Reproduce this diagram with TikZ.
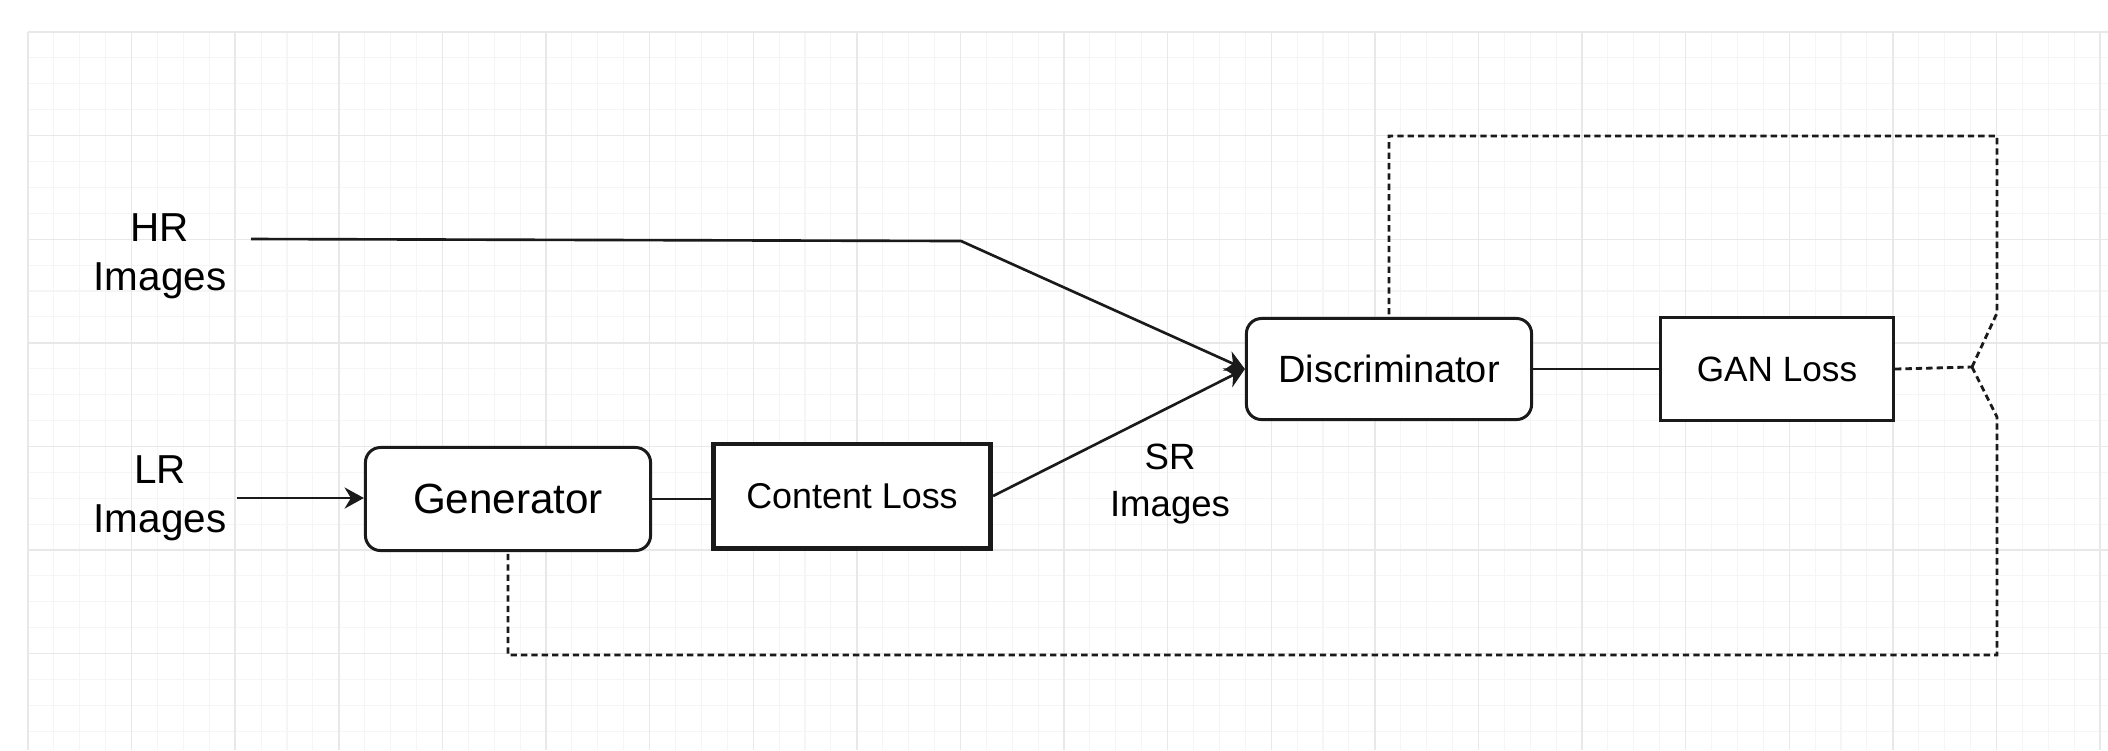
\documentclass[tikz,border=0pt]{standalone}
\usepackage{fontspec}
\setmainfont{Liberation Sans}
\usetikzlibrary{arrows.meta, positioning}
\definecolor{gridmajor}{HTML}{E8E8E8}
\definecolor{gridminor}{HTML}{F5F5F5}
\definecolor{ganstroke}{HTML}{1A1A1A}

\begin{document}
\begin{tikzpicture}[
  x=0.01cm, y=-0.01cm,
  netbox/.style={draw=ganstroke, line width=0.85pt, rounded corners=4.3pt, fill=white, minimum width=2.85cm, minimum height=1.03cm, inner sep=0pt},
  lossbox/.style={draw=ganstroke, line width=0.85pt, fill=white, minimum height=1.03cm, inner sep=0pt},
  imglabel/.style={align=center, inner sep=0.1cm},
  flow/.style={-{Stealth[length=5.5pt, width=6pt, inset=1.8pt]}, line width=0.75pt, ganstroke},
  link/.style={line width=0.75pt, ganstroke},
  loss/.style={line width=0.8pt, ganstroke, dash pattern=on 1.8pt off 1.15pt}
]
\useasboundingbox (0,0) rectangle (2108,750);
\fill[white] (0,0) rectangle (2108,750);

% Background grid
\foreach \i in {0,...,80} \draw[gridminor, line width=0.3pt] ({28+\i*25.9},32) -- ({28+\i*25.9},750);
\foreach \j in {0,...,27} \draw[gridminor, line width=0.3pt] (28,{32+\j*25.9}) -- (2108,{32+\j*25.9});
\foreach \i in {0,4,...,80} \draw[gridmajor, line width=0.4pt] ({28+\i*25.9},32) -- ({28+\i*25.9},750);
\foreach \j in {0,4,...,24} \draw[gridmajor, line width=0.4pt] (28,{32+\j*25.9}) -- (2108,{32+\j*25.9});

% Image labels
\node[imglabel, font=\fontsize{11.5}{13.8}\selectfont] (hr) at (160,256) {HR\\Images};
\node[imglabel, font=\fontsize{11.5}{13.8}\selectfont] (lr) at (160,498) {LR\\Images};
\node[imglabel, font=\fontsize{10.4}{13.2}\selectfont] (sr) at (1170,484) {SR\\Images};

% Boxes
\node[netbox, font=\fontsize{12}{14}\selectfont] (gen) at (508,499) {Generator};
\node[lossbox, line width=1.4pt, minimum width=2.77cm, minimum height=1.04cm, font=\fontsize{10.2}{12}\selectfont] (cl) at (852,496) {Content Loss};
\node[netbox, minimum height=1.01cm, font=\fontsize{10.8}{13}\selectfont] (disc) at (1389,369) {Discriminator};
\node[lossbox, minimum width=2.33cm, font=\fontsize{10}{12}\selectfont] (gan) at (1777,369) {GAN Loss};

% Helper points
\coordinate (hrstart) at (251,239);
\coordinate (hrbend) at (961,241);
\coordinate (fork) at (1972,367);

% Main flow
\draw[flow] (hrstart) -- (hrbend) -- (disc.west);
\draw[flow] (lr.east) -- (gen.west |- lr.east);
\draw[link] (gen.east) -- (cl.west |- gen.east);
\draw[flow] (cl.east) -- (disc.west);
\draw[link] (disc.east) -- (gan.west);

% Loss feedback (dashed)
\draw[loss] (gan.east) -- (fork);
\draw[loss] (fork) -- (1997,313) -- (1997,136) -| (disc.north);
\draw[loss] (fork) -- (1997,417) -- (1997,655) -| (gen.south);

\end{tikzpicture}
\end{document}
